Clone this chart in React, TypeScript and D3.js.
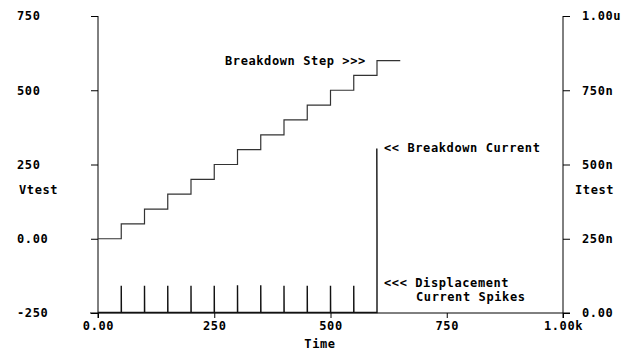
import * as d3 from 'd3'
import { useEffect, useRef } from 'react';

// Vtest staircase: (time, volts), held to the last time
const stepTimes = [0, 50, 100, 150, 200, 250, 300, 350, 400, 450, 500, 550, 600, 650];
const stepVolts = [0, 50, 100, 150, 200, 250, 300, 350, 400, 450, 500, 550, 600, 600];

// Itest: displacement spikes at each step, then breakdown
const spikeTimes = [50, 100, 150, 200, 250, 300, 350, 400, 450, 500, 550];
const spikeAmps = [90e-9, 90e-9, 90e-9, 90e-9, 90e-9, 92e-9, 92e-9, 90e-9, 90e-9, 90e-9, 90e-9];
const breakTimes = [600, 600, 599.6];
const breakAmps = [0, 275e-9, 552e-9];

const xTicks = [0, 250, 500, 750, 1000];
const xLabels = ['0.00', '250', '500', '750', '1.00k'];
const vTicks = [-250, 0, 250, 500, 750];
const vLabels = ['-250', '0.00', '250', '500', '750'];
const iTicks = [0, 250e-9, 500e-9, 750e-9, 1e-6];
const iLabels = ['0.00', '250n', '500n', '750n', '1.00u'];

const FONT = 'DejaVu Sans Mono';

function makeChart(svgEl: SVGSVGElement) {
    const svg = d3.select(svgEl);
    svg.selectAll('*').remove();

    const x = d3.scaleLinear().domain([0, 1000]).range([98, 563]);
    const yV = d3.scaleLinear().domain([-250, 750]).range([313, 16]);
    const yI = d3.scaleLinear().domain([0, 1e-6]).range([313, 16]);

    const txt = (g: any) => g.attr('font-family', FONT).attr('font-size', 12)
        .attr('font-weight', 'bold').attr('letter-spacing', 0.6).attr('fill', '#000');

    // left axis
    const gl = svg.append('g').attr('transform', `translate(${x(0)},0)`)
        .call(d3.axisLeft(yV).tickValues(vTicks).tickSize(7).tickSizeOuter(0)
            .tickFormat((d, i) => vLabels[i]));
    gl.select('.domain').remove();
    gl.selectAll('text').call(txt).attr('text-anchor', 'start').attr('x', -81);
    gl.append('line').attr('y1', 16).attr('y2', 318).attr('stroke', '#000');

    // right axis
    const gr = svg.append('g').attr('transform', `translate(${x(1000)},0)`)
        .call(d3.axisRight(yI).tickValues(iTicks).tickSize(7).tickSizeOuter(0)
            .tickFormat((d, i) => iLabels[i]));
    gr.select('.domain').remove();
    gr.selectAll('text').call(txt).attr('text-anchor', 'start').attr('x', 19);
    gr.append('line').attr('y1', 16).attr('y2', 318).attr('stroke', '#000');

    // bottom axis
    const gb = svg.append('g').attr('transform', `translate(0,${yV(-250)})`)
        .call(d3.axisBottom(x).tickValues(xTicks).tickSize(5).tickSizeOuter(0)
            .tickFormat((d, i) => xLabels[i]));
    gb.select('.domain').remove();
    gb.selectAll('text').call(txt).attr('y', 8);
    gb.append('line').attr('x1', 90).attr('x2', 570).attr('stroke', '#000');

    // axis titles
    svg.append('text').text('Vtest').attr('x', 19).attr('y', 194).call(txt);
    svg.append('text').text('Itest').attr('x', 575).attr('y', 194).call(txt);
    svg.append('text').text('Time').attr('x', 320).attr('y', 348).attr('text-anchor', 'middle').call(txt);

    // Vtest line
    const vData = stepTimes.map((t, i) => [t, stepVolts[i]] as [number, number]);
    svg.append('path').datum(vData)
        .attr('d', d3.line().x(d => x(d[0])).y(d => yV(d[1])).curve(d3.curveStepAfter))
        .attr('fill', 'none').attr('stroke', '#333').attr('stroke-width', 1.2);

    // Itest line
    const iData: [number, number][] = [[0, 0]];
    spikeTimes.forEach((t, i) => { iData.push([t, 0], [t, spikeAmps[i]], [t + 0.3, 0]); });
    breakTimes.forEach((t, i) => iData.push([t, breakAmps[i]]));
    svg.append('path').datum(iData)
        .attr('d', d3.line().x(d => x(d[0])).y(d => yI(d[1]) - 0.5))
        .attr('fill', 'none').attr('stroke', '#111').attr('stroke-width', 1.4);

    // annotations
    svg.append('text').text('Breakdown Step >>>').attr('x', 225).attr('y', 65).call(txt);
    svg.append('text').text('<< Breakdown Current').attr('x', 384).attr('y', 152).call(txt);
    svg.append('text').text('<<< Displacement').attr('x', 384).attr('y', 287).call(txt);
    svg.append('text').text('Current Spikes').attr('x', 416).attr('y', 301).call(txt);
}

function App() {
    const ref = useRef<SVGSVGElement>(null);
    useEffect(() => {
        if (ref.current) makeChart(ref.current);
    });

    return (
        <svg ref={ref} width="634" height="356"
            style={{ position: 'absolute', left: 0, top: 0, background: '#fff' }}>
        </svg>
    );
}

export default App;
